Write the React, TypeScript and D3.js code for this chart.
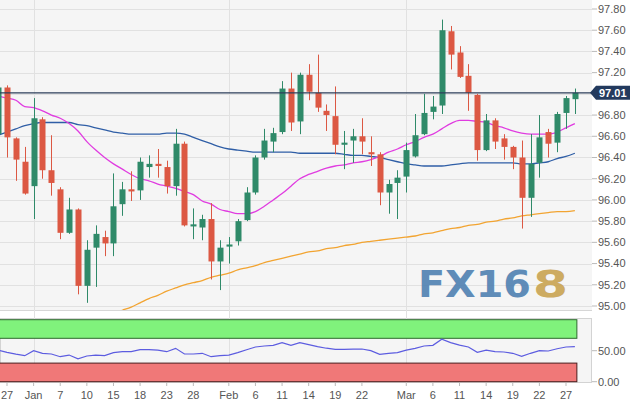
import React from 'react';
import * as d3 from 'd3';

// daily candles, first one (partly cut) is Dec 26, then Dec 27 ... Mar 28
const open = [
  96.62, 97.06, 96.58, 96.36, 96.13, 96.76, 96.28, 96.1, 95.69, 95.91, 95.19, 95.55, 95.65, 95.59, 95.96, 96.1,
  96.09, 96.31, 96.34, 96.31, 96.13, 96.53, 95.75, 95.74, 95.82, 95.42, 95.56, 95.61, 95.81, 96.07, 96.4, 96.55,
  96.64, 97.05, 96.74, 97.18, 97.01, 96.84, 96.79, 96.52, 96.56, 96.6, 96.45, 96.43, 96.07, 96.16, 96.22, 96.41,
  96.62, 96.83, 96.89, 97.59, 97.39, 97.17, 96.99, 96.47, 96.75, 96.58, 96.5, 96.4, 96.02, 96.35, 96.64, 96.54,
  96.82, 96.95,
];
const close = [
  97.06, 96.59, 96.38, 96.06, 96.77, 96.28, 96.16, 95.69, 95.91, 95.19, 95.53, 95.68, 95.59, 95.94, 96.1, 96.08,
  96.36, 96.34, 96.32, 96.13, 96.53, 95.76, 95.77, 95.82, 95.42, 95.55, 95.58, 95.8, 96.07, 96.4, 96.56, 96.63,
  97.05, 96.73, 97.18, 97.02, 96.87, 96.8, 96.52, 96.54, 96.6, 96.55, 96.43, 96.07, 96.15, 96.21, 96.47, 96.61,
  96.82, 96.88, 97.6, 97.37, 97.16, 97.01, 96.47, 96.75, 96.55, 96.5, 96.4, 96.02, 96.34, 96.59, 96.53, 96.81,
  96.96, 97.01,
];
const high = [
  97.08, 97.08, 96.59, 96.5, 96.96, 96.78, 96.61, 96.12, 96.02, 95.92, 95.62, 95.76, 95.71, 96.25, 96.17, 96.27,
  96.4, 96.42, 96.48, 96.37, 96.67, 96.55, 95.92, 95.86, 95.97, 95.62, 95.65, 95.82, 96.12, 96.42, 96.67, 96.68,
  97.12, 97.2, 97.2, 97.28, 97.37, 96.9, 97.07, 96.65, 96.67, 96.77, 96.6, 96.45, 96.19, 96.28, 96.54, 96.81,
  97.0, 96.98, 97.7, 97.64, 97.45, 97.28, 97.0, 96.81, 96.77, 96.62, 96.51, 96.56, 96.62, 96.8, 96.67, 96.83,
  96.98, 97.05,
];
const low = [
  96.55, 96.4, 96.18, 96.05, 95.82, 96.2, 96.04, 95.63, 95.68, 95.11, 95.03, 95.18, 95.47, 95.47, 95.85, 95.99,
  96.0, 96.21, 96.21, 96.06, 96.04, 95.75, 95.63, 95.62, 95.25, 95.15, 95.4, 95.57, 95.8, 96.05, 96.38, 96.45,
  96.62, 96.65, 96.62, 96.94, 96.83, 96.65, 96.43, 96.29, 96.35, 96.43, 96.32, 95.95, 95.87, 95.82, 96.07, 96.4,
  96.61, 96.76, 96.81, 97.23, 97.15, 96.84, 96.37, 96.46, 96.48, 96.38, 96.29, 95.73, 95.84, 96.21, 96.4, 96.45,
  96.67, 96.81,
];

const ma20 = [
  96.98, 96.96, 96.94, 96.88, 96.87, 96.84, 96.8, 96.77, 96.72, 96.65, 96.55, 96.47, 96.4, 96.34, 96.29, 96.24,
  96.2, 96.18, 96.15, 96.13, 96.11, 96.08, 96.05, 95.99, 95.96, 95.91, 95.89, 95.87, 95.87, 95.89, 95.94, 96.0,
  96.06, 96.13, 96.2, 96.24, 96.27, 96.3, 96.32, 96.33, 96.35, 96.36, 96.38, 96.41, 96.45, 96.48, 96.52, 96.55,
  96.59, 96.62, 96.67, 96.72, 96.75, 96.75, 96.74, 96.73, 96.7, 96.68, 96.65, 96.63, 96.62, 96.62, 96.62, 96.64,
  96.68, 96.72,
];
const ma50 = [
  96.61, 96.64, 96.67, 96.7, 96.72, 96.73, 96.73, 96.73, 96.73, 96.71, 96.7, 96.68, 96.66, 96.64, 96.63, 96.62,
  96.62, 96.62, 96.62, 96.63, 96.63, 96.62, 96.59, 96.56, 96.53, 96.5, 96.48, 96.47, 96.46, 96.45, 96.45, 96.45,
  96.45, 96.45, 96.44, 96.44, 96.44, 96.44, 96.44, 96.43, 96.42, 96.42, 96.41, 96.4, 96.38, 96.36, 96.34, 96.33,
  96.32, 96.32, 96.32, 96.33, 96.34, 96.35, 96.35, 96.35, 96.35, 96.35, 96.35, 96.34, 96.34, 96.35, 96.36, 96.39,
  96.41, 96.44,
];
const ma200 = [
  null, null, null, null, null, null, null, null, null, null, null, null, 94.9, 94.93, 94.96, 94.99,
  95.03, 95.07, 95.1, 95.14, 95.17, 95.2, 95.22, 95.24, 95.27, 95.29, 95.31, 95.34, 95.36, 95.38, 95.41, 95.43,
  95.45, 95.47, 95.49, 95.51, 95.52, 95.54, 95.55, 95.57, 95.58, 95.6, 95.61, 95.62, 95.63, 95.64, 95.65, 95.66,
  95.68, 95.69, 95.71, 95.73, 95.74, 95.76, 95.77, 95.79, 95.8, 95.82, 95.83, 95.85, 95.86, 95.87, 95.88, 95.89,
  95.89, 95.9,
];
const rsi = [
  51, 47.4, 44.5, 42, 50, 45.8, 44.7, 40.3, 43, 37, 41.5, 43, 42, 46.8, 48.4, 48.4,
  51.6, 51.6, 51, 48.4, 53.8, 44.7, 44.7, 45.8, 40.3, 42, 43, 46.8, 51.6, 56, 57.6, 58.7,
  63, 58.7, 63, 59.7, 56.5, 54, 52.2, 52.2, 52.5, 52.7, 50, 44.2, 45.8, 46.8, 51, 53.8,
  57.6, 58.7, 68.4, 63, 59.1, 56, 47.4, 51, 48.4, 47.9, 45.8, 41, 45.8, 50, 49.5, 53.2,
  56, 56.5,
];

const xLabels = ['27', 'Jan', '7', '10', '15', '18', '23', '28', 'Feb', '6', '11', '14', '19', '22', 'Mar', '6', '11', '14', '19', '22', '27'];
const xLabelIdx = [1, 4, 7, 10, 13, 16, 19, 22, 26, 29, 32, 35, 38, 41, 46, 49, 52, 55, 58, 61, 64];
const monthIdx = [4, 26, 46];
const priceTicks = d3.range(0, 15).map((k) => 95 + k * 0.2);
const rsiTicks = [0, 50];

const W = 640;
const H = 405;
const plotR = 592;
const mainBot = 310;
const rsiTop = 318;
const rsiBot = 383;
const font = '"Liberation Sans", Arial, sans-serif';

const green = '#2f8a69';
const red = '#dc5843';

const App = () => {
  const x = d3.scaleLinear().domain([1, 64]).range([7, 566]);
  const y = d3.scaleLinear().domain([95, 97.8]).range([306, 9]);
  const yR = d3.scaleLinear().domain([0, 100]).range([381.7, 319.7]);

  const maLine = d3
    .line<number | null>()
    .defined((d) => d != null)
    .x((_, i) => x(i))
    .y((d) => y(d as number))
    .curve(d3.curveMonotoneX);
  const rsiLine = d3
    .line<number>()
    .x((_, i) => x(i))
    .y((d) => yR(d));

  const last = close[close.length - 1];
  const ly = y(last);
  const bw = 6;
  const bandR = x(close.length - 1) + 2;

  return (
    <svg width={W} height={H} style={{ position: 'absolute', left: 0, top: 0, background: '#fff' }}>
      <defs>
        <clipPath id="main">
          <rect x={0} y={0} width={plotR} height={mainBot} />
        </clipPath>
      </defs>

      {/* main panel */}
      <rect x={0} y={0} width={plotR} height={mainBot} fill="#f5f5f5" />
      <line x1={0} x2={plotR} y1={mainBot + 0.5} y2={mainBot + 0.5} stroke="#d6d6d6" />
      {priceTicks.map((t) => (
        <line key={t} x1={0} x2={plotR} y1={Math.round(y(t)) + 0.5} y2={Math.round(y(t)) + 0.5} stroke="#e1e1e1" />
      ))}
      {monthIdx.map((i) => (
        <line key={i} x1={Math.round(x(i)) + 0.5} x2={Math.round(x(i)) + 0.5} y1={0} y2={rsiBot} stroke="#e1e1e1" />
      ))}

      {/* watermark */}
      <g fontFamily='"DejaVu Sans", sans-serif' fontWeight="bold" fontSize={38}>
        <text x={418} y={297} textLength={113} lengthAdjust="spacingAndGlyphs" fill="#4f81b2" opacity={0.9}>
          FX16
        </text>
        <text x={533} y={297} textLength={35} lengthAdjust="spacingAndGlyphs" fill="#c9a352" opacity={0.9}>
          8
        </text>
      </g>

      <g clipPath="url(#main)">
        <path d={maLine(ma200) || ''} fill="none" stroke="#f2a431" strokeWidth={1.3} />
        <path d={maLine(ma50) || ''} fill="none" stroke="#2f5ea6" strokeWidth={1.3} />
        <path d={maLine(ma20) || ''} fill="none" stroke="#e03ce0" strokeWidth={1.3} />

        {open.map((o, i) => {
          const c = close[i];
          const col = c >= o ? green : red;
          const cx = Math.round(x(i)) + 0.5;
          const top = y(Math.max(o, c));
          const bot = y(Math.min(o, c));
          return (
            <g key={i}>
              <line x1={cx} x2={cx} y1={y(high[i])} y2={y(low[i])} stroke={col} strokeWidth={1} />
              <rect x={cx - bw / 2} y={top} width={bw} height={Math.max(1.5, bot - top)} fill={col} />
            </g>
          );
        })}

        <line x1={0} x2={plotR} y1={ly} y2={ly} stroke="#2c3e5a" strokeWidth={1.3} />
      </g>

      {/* right price axis */}
      <g fontFamily={font} fontSize={11} fill="#555">
        {priceTicks.map((t) => (
          <g key={t}>
            <line x1={plotR} x2={plotR + 5} y1={y(t)} y2={y(t)} stroke="#bbb" />
            <text x={plotR + 6} y={y(t)} dy="0.35em">
              {t.toFixed(2)}
            </text>
          </g>
        ))}
      </g>
      <path
        d={`M${plotR - 2},${ly} L${plotR + 4},${ly - 7} L${W - 10},${ly - 7} L${W - 10},${ly + 7} L${plotR + 4},${ly + 7} Z`}
        fill="#233a5e"
      />
      <text x={plotR + 7} y={ly} dy="0.36em" fontFamily={font} fontSize={11} fontWeight="bold" fill="#fff">
        {last.toFixed(2)}
      </text>

      {/* RSI panel */}
      <rect x={0.5} y={rsiTop + 0.5} width={plotR - 1} height={rsiBot - rsiTop - 1} fill="#f5f5f5" stroke="#d3d3d3" />
      {monthIdx.map((i) => (
        <line key={'r' + i} x1={Math.round(x(i)) + 0.5} x2={Math.round(x(i)) + 0.5} y1={rsiTop} y2={rsiBot} stroke="#e1e1e1" />
      ))}
      <rect x={-1} y={yR(100)} width={bandR + 1} height={yR(70) - yR(100)} fill="#80f27c" stroke="#2d6a2d" strokeWidth={1} />
      <rect x={-1} y={yR(30)} width={bandR + 1} height={yR(0) - yR(30)} fill="#f07878" stroke="#4a1c1c" strokeWidth={1} />
      <path d={rsiLine(rsi) || ''} fill="none" stroke="#5c5ce0" strokeWidth={1.2} />

      <g fontFamily={font} fontSize={11} fill="#555">
        {rsiTicks.map((t) => (
          <g key={t}>
            <line x1={plotR} x2={plotR + 5} y1={yR(t)} y2={yR(t)} stroke="#bbb" />
            <text x={plotR + 6} y={yR(t)} dy="0.35em">
              {t.toFixed(2)}
            </text>
          </g>
        ))}
      </g>

      {/* x axis */}
      <g fontFamily={font} fontSize={11} fill="#555" textAnchor="middle">
        {xLabels.map((l, k) => (
          <g key={k}>
            <line x1={x(xLabelIdx[k])} x2={x(xLabelIdx[k])} y1={rsiBot} y2={rsiBot + 3} stroke="#bbb" />
            <text x={x(xLabelIdx[k])} y={395} dy="0.35em">
              {l}
            </text>
          </g>
        ))}
      </g>
    </svg>
  );
};

export default App;
